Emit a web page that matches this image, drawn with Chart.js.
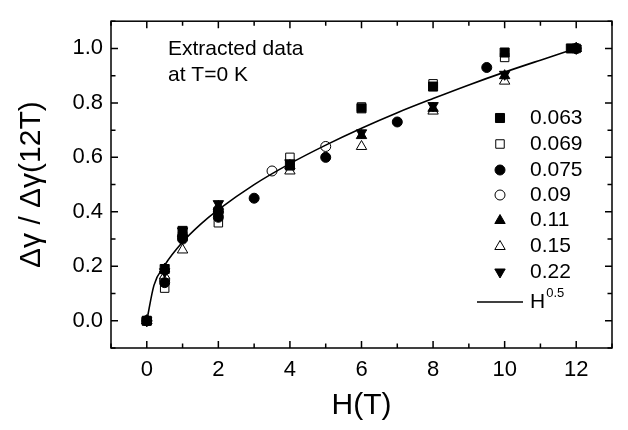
<!DOCTYPE html>
<html>
<head>
<meta charset="utf-8">
<script src="https://cdn.jsdelivr.net/npm/chart.js@4/dist/chart.umd.min.js"></script>
<style>
  html, body { margin: 0; padding: 0; background: #fff; }
  #wrap { width: 628px; height: 430px; }
</style>
</head>
<body>
<div id="wrap"><canvas id="ScatterChart"></canvas></div>
<script>
// tick labels
var xTicks = [0, 2, 4, 6, 8, 10, 12];
var yTicks = [0.0, 0.2, 0.4, 0.6, 0.8, 1.0];

// series, H in tesla and normalised delta gamma
var seriesNames = ['0.063', '0.069', '0.075', '0.09', '0.11', '0.15', '0.22'];

var h063 = [0, 0.5, 1, 2, 4, 6, 8, 10, 11.85];
var v063 = [0, 0.19, 0.33, 0.40, 0.57, 0.78, 0.86, 0.985, 1.0];

var h069 = [0, 0.5, 1, 2, 4, 6, 8, 10, 12];
var v069 = [0, 0.12, 0.31, 0.36, 0.60, 0.785, 0.87, 0.967, 1.0];

var h075 = [0, 0.5, 1, 2, 3, 5, 7, 9.5, 12];
var v075 = [0, 0.14, 0.30, 0.38, 0.45, 0.60, 0.73, 0.93, 1.0];

var h09 = [0, 0.5, 1, 2, 3.5, 5, 12];
var v09 = [0, 0.15, 0.31, 0.40, 0.55, 0.64, 1.0];

var h11 = [0, 0.5, 1, 2, 4, 6, 8, 10, 12];
var v11 = [0, 0.19, 0.32, 0.42, 0.57, 0.68, 0.78, 0.90, 1.0];

var h15 = [0, 0.5, 1, 2, 4, 6, 8, 10, 12];
var v15 = [0, 0.165, 0.26, 0.41, 0.55, 0.64, 0.77, 0.88, 1.0];

var h22 = [0, 0.5, 1, 2, 4, 6, 8, 10, 12];
var v22 = [0, 0.18, 0.33, 0.43, 0.58, 0.69, 0.79, 0.905, 1.0];

// H^0.5 curve
var hFit = [0, 0.2, 0.5, 1, 1.5, 2, 3, 4, 5, 6, 7, 8, 9, 10, 11, 12];
var vFit = [0, 0.13, 0.204, 0.289, 0.354, 0.408, 0.5, 0.577, 0.645, 0.707, 0.764, 0.816, 0.866, 0.913, 0.957, 1.0];

function pts(h, v) {
    return h.map(function (x, i) { return { x: x, y: v[i] }; });
}

// marker styles: [pointStyle, filled, rotation, radius]
var markers = [
    ['rect', true, 0, 6.4],
    ['rect', false, 0, 6.0],
    ['circle', true, 0, 5],
    ['circle', false, 0, 5],
    ['triangle', true, 0, 6],
    ['triangle', false, 0, 6],
    ['triangle', true, 180, 6]
];
var seriesData = [[h063, v063], [h069, v069], [h075, v075], [h09, v09], [h11, v11], [h15, v15], [h22, v22]];

var datasets = [];
// chart.js paints the first dataset last, so filled markers go first
[6, 4, 2, 0, 5, 3, 1].forEach(function (i) {
    var m = markers[i];
    datasets.push({
        label: seriesNames[i],
        data: pts(seriesData[i][0], seriesData[i][1]),
        pointStyle: m[0],
        rotation: m[2],
        pointRadius: m[3],
        pointHoverRadius: m[3],
        backgroundColor: m[1] ? '#000' : '#fff',
        borderColor: '#000',
        borderWidth: 1,
        showLine: false
    });
});
datasets.unshift({
    label: 'H^0.5',
    type: 'line',
    data: pts(hFit, vFit),
    borderColor: '#000',
    borderWidth: 1.6,
    pointRadius: 0,
    fill: false,
    cubicInterpolationMode: 'monotone'
});

var FONT = '"Liberation Sans", Arial, sans-serif';

var frameTicks = {
    id: 'frameTicks',
    afterDraw: function (chart) {
        var c = chart.ctx, a = chart.chartArea;
        var sx = chart.scales.x, sy = chart.scales.y;
        c.save();
        c.strokeStyle = '#000';
        c.lineWidth = 1.5;
        c.strokeRect(a.left, a.top, a.right - a.left, a.bottom - a.top);
        c.beginPath();
        for (var v = Math.ceil(sx.min); v <= sx.max; v++) {
            var px = sx.getPixelForValue(v);
            var len = (v % 2 === 0) ? 7 : 4.5;
            c.moveTo(px, a.bottom); c.lineTo(px, a.bottom - len);
            c.moveTo(px, a.top); c.lineTo(px, a.top + len);
        }
        for (var k = -1; k <= 11; k++) {
            var val = k / 10;
            var py = sy.getPixelForValue(val);
            var l2 = (k % 2 === 0) ? 7 : 4.5;
            c.moveTo(a.left, py); c.lineTo(a.left + l2, py);
            c.moveTo(a.right, py); c.lineTo(a.right - l2, py);
        }
        c.stroke();

        // note text
        c.fillStyle = '#000';
        c.font = '21px ' + FONT;
        c.textBaseline = 'middle';
        c.textAlign = 'left';
        c.fillText('Extracted data', 168, 49);
        c.fillText('at T=0 K', 168, 75);

        // legend
        var rowY = [118, 144, 170, 195, 220.5, 246.5, 272];
        var mx = 500, tx = 530;
        for (var i = 0; i < seriesNames.length; i++) {
            var m = markers[i];
            var y = rowY[i];
            c.beginPath();
            if (m[0] === 'rect') {
                var s = m[3] * Math.SQRT1_2;
                c.rect(mx - s, y - s, 2 * s, 2 * s);
            } else if (m[0] === 'circle') {
                c.arc(mx, y, m[3], 0, Math.PI * 2);
            } else {
                var r = m[3], d = m[2] === 180 ? -1 : 1;
                c.moveTo(mx, y - d * r);
                c.lineTo(mx - r * 0.866, y + d * r * 0.5);
                c.lineTo(mx + r * 0.866, y + d * r * 0.5);
                c.closePath();
            }
            c.fillStyle = m[1] ? '#000' : '#fff';
            c.fill();
            c.lineWidth = 1;
            c.strokeStyle = '#000';
            c.stroke();
            c.fillStyle = '#000';
            c.font = '21px ' + FONT;
            c.fillText(seriesNames[i], tx, y);
        }
        c.beginPath();
        c.lineWidth = 1.6;
        c.moveTo(477, 302); c.lineTo(523, 302);
        c.stroke();
        c.font = '21px ' + FONT;
        c.fillText('H', tx, 302);
        var hw = c.measureText('H').width;
        c.font = '13px ' + FONT;
        c.fillText('0.5', tx + hw + 1, 293);
        c.restore();
    }
};

var chart = new Chart(document.getElementById('ScatterChart'), {
    type: 'scatter',
    data: { datasets: datasets },
    options: {
        responsive: true,
        maintainAspectRatio: false,
        animation: false,
        layout: { padding: { top: 4, right: 16, left: 0, bottom: 0 } },
        plugins: {
            legend: { display: false },
            tooltip: { enabled: false }
        },
        scales: {
            x: {
                type: 'linear',
                min: -1,
                max: 13,
                afterBuildTicks: function (s) { s.ticks = xTicks.map(function (v) { return { value: v }; }); },
                afterFit: function (s) { s.height = 82; },
                grid: { display: false, drawTicks: false },
                border: { display: false },
                ticks: {
                    color: '#000',
                    padding: 9,
                    maxRotation: 0,
                    font: { family: FONT, size: 22 }
                },
                title: {
                    display: true,
                    text: 'H(T)',
                    color: '#000',
                    font: { family: FONT, size: 30 },
                    padding: { top: 0, bottom: 6 }
                }
            },
            y: {
                type: 'linear',
                min: -0.1,
                max: 1.1,
                afterBuildTicks: function (s) { s.ticks = yTicks.map(function (v) { return { value: v }; }); },
                afterFit: function (s) { s.width = 111; },
                grid: { display: false, drawTicks: false },
                border: { display: false },
                ticks: {
                    color: '#000',
                    padding: 8,
                    font: { family: FONT, size: 22 },
                    callback: function (v) { return v.toFixed(1); }
                },
                title: {
                    display: true,
                    text: 'Δγ / Δγ(12T)',
                    color: '#000',
                    font: { family: FONT, size: 30 },
                    padding: { top: 14, bottom: 0 }
                }
            }
        }
    },
    plugins: [frameTicks]
});
</script>
</body>
</html>
